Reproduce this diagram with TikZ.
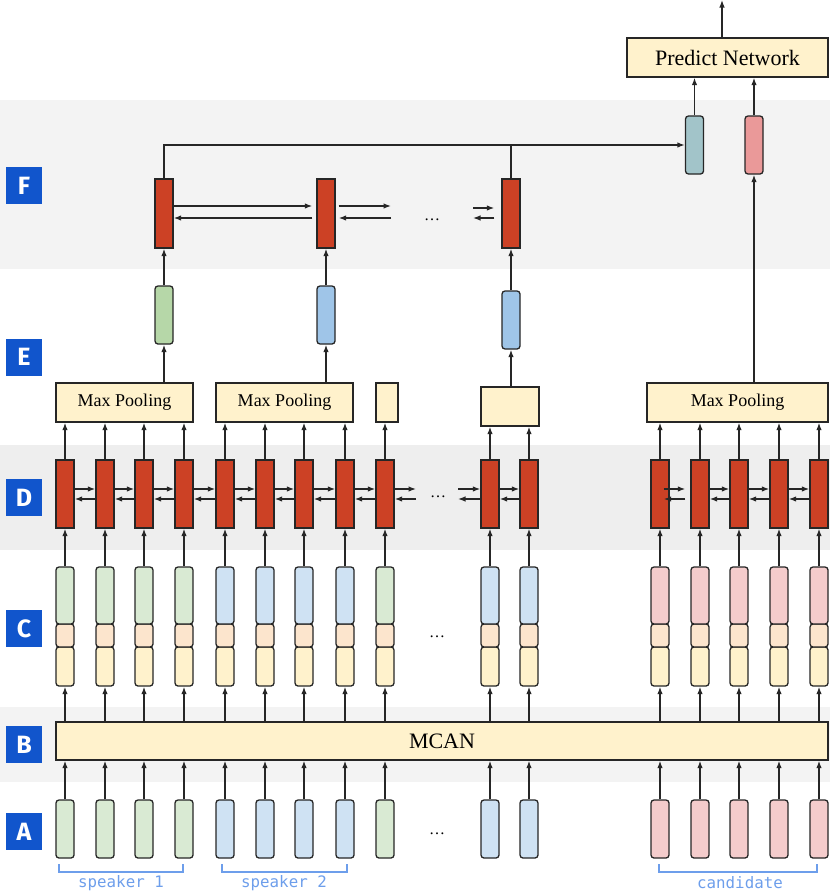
\documentclass[tikz,border=0pt]{standalone}
\usepackage{fontspec}
\setmainfont{Liberation Serif}
\newfontfamily\tagfont{Fira Sans}
\newfontfamily\spkfont{DejaVu Sans Mono}
\usetikzlibrary{arrows.meta,calc}

\definecolor{bandgray}{HTML}{F3F3F3}
\definecolor{banddark}{HTML}{EEEEEE}
\definecolor{tagblue}{HTML}{1155CC}
\definecolor{rnnred}{HTML}{CC4125}
\definecolor{sgreen}{HTML}{D9EAD3}
\definecolor{sblue}{HTML}{CFE2F3}
\definecolor{cpink}{HTML}{F4CCCC}
\definecolor{peach}{HTML}{FCE5CD}
\definecolor{paleyellow}{HTML}{FFF2CC}
\definecolor{egreen}{HTML}{B6D7A8}
\definecolor{eblue}{HTML}{9FC5E8}
\definecolor{fteal}{HTML}{A2C4C9}
\definecolor{fpink}{HTML}{EA9999}
\definecolor{bracketblue}{HTML}{6D9EEB}

\tikzset{
    arr/.style={-{Latex[length=7.5pt,width=5.5pt]}, line width=1.3pt, draw=black!85},
    plain/.style={line width=1.3pt, draw=black!85},
    tag/.style={fill=tagblue, text=white, minimum width=36pt, minimum height=37pt,
        inner sep=0pt, font=\tagfont\bfseries\fontsize{25}{30}\selectfont},
    cell/.style={draw=black!85, line width=1.3pt, minimum width=18pt, inner sep=0pt},
    emb/.style={cell, rounded corners=3pt},
    rnn/.style={cell, fill=rnnred, minimum height=68pt},
    yellowbox/.style={draw=black!85, line width=1.3pt, fill=paleyellow, inner sep=0pt},
    pool/.style={yellowbox, minimum height=39pt, font=\fontsize{18}{21}\selectfont},
    speaker/.style={text=bracketblue, font=\spkfont\fontsize{15.8}{18}\selectfont},
    bracket/.style={draw=bracketblue, line width=1.2pt},
    dotsnode/.style={font=\fontsize{16}{18}\selectfont, inner sep=0pt}
}

\begin{document}
\begin{tikzpicture}[x=1pt,y=-1pt]
    \useasboundingbox (0,0) rectangle (830,894);

    % Bands
    \fill[bandgray] (0,100) rectangle (830,269);
    \fill[banddark] (0,445) rectangle (830,550);
    \fill[bandgray] (0,707) rectangle (830,782);

    % Layer tags
    \node[tag] (tagF) at (24,185.5) {F};
    \node[tag] (tagE) at (24,357) {E};
    \node[tag] (tagD) at (24,497.5) {D};
    \node[tag] (tagC) at (24,628.5) {C};
    \node[tag] (tagB) at (24,744.5) {B};
    \node[tag] (tagA) at (24,831.5) {A};

    % MCAN
    \node[yellowbox, minimum width=772pt, minimum height=38pt,
        font=\fontsize{22}{26}\selectfont] (mcan) at (442,741) {MCAN};

    % Utterance columns
    \foreach \x/\c [count=\i] in {65/sgreen,105/sgreen,144/sgreen,184/sgreen,
        225/sblue,265/sblue,304/sblue,345/sblue,385/sgreen,490/sblue,529/sblue,
        660/cpink,700/cpink,739/cpink,779/cpink,819/cpink} {
        \node[emb, fill=\c, minimum height=58pt] (a\i) at (\x,829) {};
        \node[emb, fill=paleyellow, minimum height=39pt] (cbot\i) at (\x,666.5) {};
        \node[emb, fill=peach, minimum height=23pt] (cmid\i) at (\x,635.5) {};
        \node[emb, fill=\c, minimum height=57pt] (ctop\i) at (\x,595.5) {};
        \node[rnn] (d\i) at (\x,494) {};
        \draw[arr] (a\i.north) -- (a\i.north |- mcan.south);
        \draw[arr] (cbot\i.south |- mcan.north) -- (cbot\i.south);
        \draw[arr] (ctop\i.north) -- (d\i.south);
    }

    \node[dotsnode] (adots) at (437,834) {\dots};
    \node[dotsnode] (cdots) at (437,637) {\dots};
    \node[dotsnode] (ddots) at (438,497) {\dots};

    % Bi-directional links in D
    \foreach \i [evaluate=\i as \j using int(\i+1)] in {1,...,8,10,13,14,15} {
        \draw[arr] ($(d\i.east)+(0,-5)$) -- ($(d\j.west)+(0,-5)$);
        \draw[arr] ($(d\j.west)+(0,5)$) -- ($(d\i.east)+(0,5)$);
    }
    \draw[arr] ($(d12.east)+(-6,-5)$) -- ($(d13.west)+(-5,-5)$);
    \draw[arr] ($(d13.west)+(-5,5)$) -- ($(d12.east)+(-6,5)$);

    \coordinate (dout) at (416,494);
    \coordinate (din) at (458,494);
    \draw[arr] ($(d9.east)+(0,-5)$) -- ($(dout)+(0,-5)$);
    \draw[arr] ($(dout)+(0,5)$) -- ($(d9.east)+(0,5)$);
    \draw[arr] ($(din)+(0,-5)$) -- ($(d10.west)+(0,-5)$);
    \draw[arr] ($(d10.west)+(0,5)$) -- ($(din)+(0,5)$);

    % Pooling
    \node[pool, minimum width=137pt] (p1) at (124.5,402.5) {Max Pooling};
    \node[pool, minimum width=137pt] (p2) at (284.5,402.5) {Max Pooling};
    \node[pool, minimum width=22pt] (p3) at (387,402.5) {};
    \node[pool, minimum width=58pt] (p4) at (510,406.5) {};
    \node[pool, minimum width=181pt] (p5) at (737.5,402.5) {Max Pooling};

    \foreach \i/\p in {1/p1,2/p1,3/p1,4/p1,5/p2,6/p2,7/p2,8/p2,9/p3,
        10/p4,11/p4,12/p5,13/p5,14/p5,15/p5,16/p5}
        \draw[arr] (d\i.north) -- (d\i.north |- \p.south);

    % E
    \node[emb, fill=egreen, minimum height=58pt] (e1) at (164,315) {};
    \node[emb, fill=eblue, minimum height=58pt] (e2) at (326,315) {};
    \node[emb, fill=eblue, minimum height=58pt] (e3) at (511,320) {};
    \draw[arr] (p1.north -| e1) -- (e1.south);
    \draw[arr] (p2.north -| e2) -- (e2.south);
    \draw[arr] (p4.north -| e3) -- (e3.south);

    % F
    \node[rnn, minimum height=69pt] (f1) at (164,213.5) {};
    \node[rnn, minimum height=69pt] (f2) at (326,213.5) {};
    \node[rnn, minimum height=69pt] (f3) at (511,213.5) {};
    \draw[arr] (e1.north) -- (f1.south);
    \draw[arr] (e2.north) -- (f2.south);
    \draw[arr] (e3.north) -- (f3.south);

    \draw[arr] ($(f1.east)+(0,-7.5)$) -- ($(f2.west)+(-4,-7.5)$);
    \draw[arr] ($(f2.west)+(-4,4.5)$) -- ($(f1.east)+(0,4.5)$);
    \coordinate (fout) at (391,213.5);
    \coordinate (fin) at (473,213.5);
    \draw[arr] ($(f2.east)+(3,-7.5)$) -- ($(fout)+(0,-7.5)$);
    \draw[arr] ($(fout)+(0,4.5)$) -- ($(f2.east)+(3,4.5)$);
    \draw[arr] ($(fin)+(0,-5.5)$) -- ($(f3.west)+(-7,-5.5)$);
    \draw[arr] ($(f3.west)+(-7,4.5)$) -- ($(fin)+(0,4.5)$);
    \node[dotsnode] (fdots) at (432,220) {\dots};

    % Predict
    \node[emb, fill=fteal, minimum height=58pt] (t) at (694.5,145) {};
    \node[emb, fill=fpink, minimum height=58pt] (q) at (754,145) {};
    \node[yellowbox, minimum width=201pt, minimum height=39pt,
        font=\fontsize{22}{26}\selectfont] (pred) at (727.5,57.5) {Predict Network};

    \draw[arr] (f1.north) |- (t.west);
    \draw[plain] (f3.north) -- (f3.north |- t.west);
    \draw[arr] (t.north) -- (t.north |- pred.south);
    \draw[arr] (q.north) -- (q.north |- pred.south);
    \draw[arr] (q.south |- p5.north) -- (q.south);
    \coordinate (out) at (722,0);
    \draw[arr] (out |- pred.north) -- (out);

    % Speakers
    \draw[bracket] (59,864) -- (59,872) -- (183,872) -- (183,864);
    \draw[bracket] (222,864) -- (222,872) -- (347,872) -- (347,864);
    \draw[bracket] (659,864) -- (659,872) -- (817,872) -- (817,864);
    \node[speaker] (spk1) at (121,883) {speaker 1};
    \node[speaker] (spk2) at (284,883) {speaker 2};
    \node[speaker] (cand) at (740,883) {candidate};

\end{tikzpicture}
\end{document}
